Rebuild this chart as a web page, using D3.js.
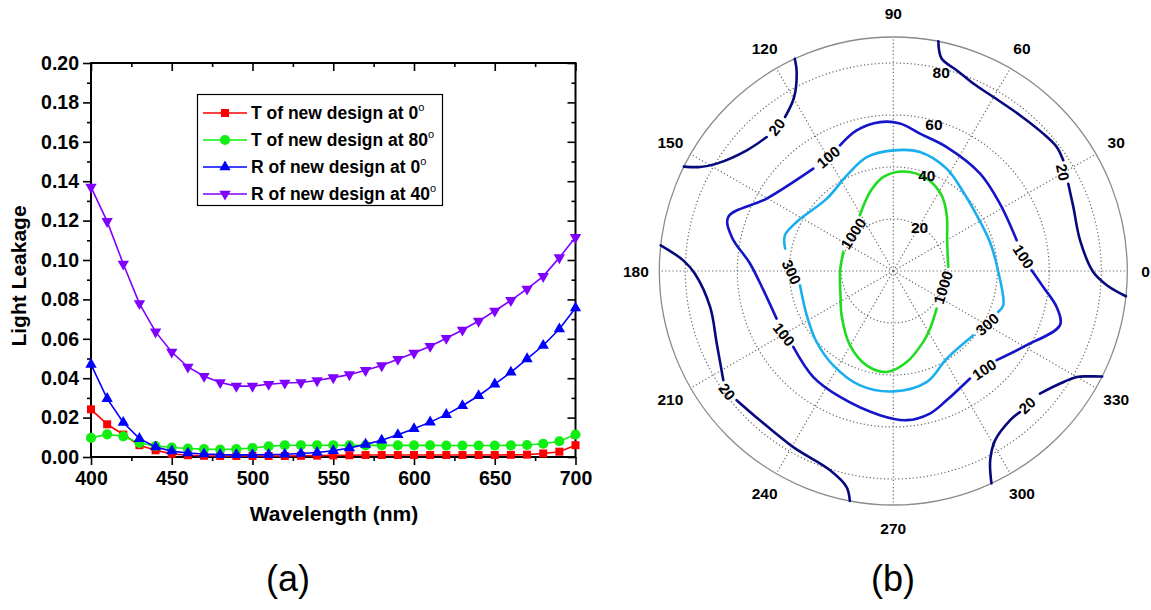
<!DOCTYPE html>
<html>
<head>
<meta charset="utf-8">
<script src="https://cdn.jsdelivr.net/npm/d3@7"></script>
<style>
  html, body { margin: 0; padding: 0; background: #fff; }
  svg { display: block; font-family: "Liberation Sans", Arial, Helvetica, sans-serif; }
</style>
</head>
<body>
<svg id="fig" width="1151" height="610"></svg>
<script>
// ---------- (a) light leakage spectra ----------
const wavelengths = [400, 410, 420, 430, 440, 450, 460, 470, 480, 490, 500,
  510, 520, 530, 540, 550, 560, 570, 580, 590, 600,
  610, 620, 630, 640, 650, 660, 670, 680, 690, 700];

const tNew0 = [0.0242, 0.0166, 0.0114, 0.0060, 0.0034, 0.0016, 0.0009, 0.0006, 0.0005, 0.0005, 0.0005,
  0.0005, 0.0005, 0.0006, 0.0007, 0.0008, 0.0009, 0.0010, 0.0010, 0.0010, 0.0010,
  0.0010, 0.0010, 0.0010, 0.0010, 0.0010, 0.0011, 0.0012, 0.0018, 0.0027, 0.0060];

const tNew80 = [0.0097, 0.0115, 0.0105, 0.0071, 0.0056, 0.0048, 0.0043, 0.0040, 0.0038, 0.0040, 0.0046,
  0.0054, 0.0060, 0.0060, 0.0060, 0.0060, 0.0059, 0.0059, 0.0059, 0.0059, 0.0059,
  0.0059, 0.0058, 0.0058, 0.0058, 0.0058, 0.0059, 0.0061, 0.0067, 0.0080, 0.0114];

const rNew0 = [0.0470, 0.0296, 0.0175, 0.0093, 0.0051, 0.0030, 0.0020, 0.0015, 0.0012, 0.0011, 0.0011,
  0.0012, 0.0014, 0.0018, 0.0023, 0.0032, 0.0046, 0.0064, 0.0085, 0.0113, 0.0143,
  0.0177, 0.0215, 0.0260, 0.0311, 0.0370, 0.0430, 0.0498, 0.0566, 0.0650, 0.0756];

const rNew40 = [0.1370, 0.1196, 0.0980, 0.0779, 0.0635, 0.0533, 0.0457, 0.0410, 0.0378, 0.0360, 0.0360,
  0.0369, 0.0376, 0.0378, 0.0388, 0.0403, 0.0418, 0.0440, 0.0464, 0.0496, 0.0528,
  0.0562, 0.0603, 0.0645, 0.0690, 0.0741, 0.0795, 0.0853, 0.0917, 0.1012, 0.1115];

const seriesNames = ["T of new design at 0", "T of new design at 80",
                     "R of new design at 0", "R of new design at 40"];

const xMajorTicks = [400, 450, 500, 550, 600, 650, 700];
const xMinorTicks = [425, 475, 525, 575, 625, 675];
const yMajorTicks = [0, 0.02, 0.04, 0.06, 0.08, 0.10, 0.12, 0.14, 0.16, 0.18, 0.20];
const yMinorTicks = [0.01, 0.03, 0.05, 0.07, 0.09, 0.11, 0.13, 0.15, 0.17, 0.19];

// ---------- (b) polar contour map (angle in degrees, radius in degrees) ----------
const angleTicks = [0, 30, 60, 90, 120, 150, 180, 210, 240, 270, 300, 330];
const radiusTicks = [20, 40, 60, 80];
const radiusMax = 90;

// null marks a break where an inline label sits
const contour1000 = [[4.2, 21.2], [19.3, 22.1], [30, 23.9], [46.2, 29.7], [57.4, 34.5], [70.1, 37.8],
  [84, 38.5], [96, 36.4], [106.4, 31.7], [121, 25], null,
  [159, 20.6], [181, 20.5], [204.4, 22.3], [220.6, 26.2], [239.8, 33.1], [254.2, 37.7], [266.3, 38.9],
  [278.4, 35.4], [292.9, 29.6], [302.5, 26.3], [319, 22.1]];

const contour300 = [[188.7, 36.3], [207.1, 37.4], [222.8, 40.2], [237.5, 43], [253.8, 45.8], [270, 46.3],
  [286.7, 44.6], [301.4, 39.5], [321.2, 39.5], null,
  [338.7, 43.3], [342.7, 44.3], [359.5, 40.4], [16.7, 38.8], [33.7, 38.6], [48.5, 40.6], [62.5, 44.4],
  [77.4, 46.9], [90, 46.4], [103.1, 45], [115.9, 40.9], [132.6, 37.8], [153.1, 41.7], [161.8, 43.9],
  [168.3, 42.5]];

const contour100 = [[14, 48.9], [32.3, 48.5], [48.3, 50.2], [66.7, 51.9], [79, 53.8], [87.4, 56.8],
  [95.1, 57.5], [104.6, 55.9], [113, 52.5], null,
  [128, 50], [150.2, 56.1], [161.9, 66.8], [168.1, 63.5], [177, 55.2], [188.4, 50.5], [202.2, 48.5], null,
  [217.2, 48.3], [233, 51.1], [247.1, 52.6], [264.7, 55.7], [275.1, 57.6], [284.4, 56.6], [292.4, 53.8],
  [305.5, 50.8], null,
  [319.2, 52.5], [330.9, 58.7], [342, 67.4], [347.6, 64.3], [353.9, 58], [0.3, 53.2]];

const contour20 = [
  [[114.9, 90], [115.9, 85.1], [119.7, 77], [125.1, 72.4], null,
   [133.4, 70.9], [140.5, 73], [148.7, 79.5], [151.7, 84.4], [153.5, 90]],
  [[78.9, 90], [77.2, 83.8], [72.5, 81], [66.9, 78.4], [60.1, 77.2], [50.9, 77.2], [42.5, 78.2],
   [37.2, 78.9], [33.1, 78], null,
   [26.5, 75.2], [19.6, 73.5], [9.3, 72.8], [359.7, 76.9], [356.2, 82.3], [353.8, 90]],
  [[173.7, 90], [177.1, 80.9], [180.8, 76.3], [191.1, 71.8], [202.3, 73.4], [212.7, 77.7], null,
   [219.5, 78.1], [228.2, 77], [240.4, 77.9], [252.4, 80.4], [257.8, 85], [259.3, 90]],
  [[294.8, 90], [297.1, 81.8], [301, 76], [308, 72.9], [311.9, 72.9], null,
   [320.1, 73.5], [326, 77.4], [330, 81.5], [331.8, 85.8], [333.2, 90]]
];

// inline contour labels: level, angle, radius
const contourLabels = [
  [1000, 136.9, 21.1], [1000, 341.8, 20.1],
  [300, 180.6, 39.1], [300, 330.4, 41.5],
  [100, 119.7, 50.5], [100, 6.4, 50.4], [100, 312.7, 51.5], [100, 210.1, 48.6],
  [20, 129, 71.3], [20, 30.2, 75.5], [20, 216, 79], [20, 314.9, 72.9]
];
const contourLabelRotation = [-57, -73, 65, -42, -40, 57, -34, 52, -52, 78, 52, -43];

// ================= drawing =================
const svg = d3.select("#fig");
const FONT = '"Liberation Sans", Arial, Helvetica, sans-serif';
const SVG_W = 1151;

// ----- panel (a) -----
const A = { left: 91, right: 575.5, top: 63, bottom: 457 };
const x = d3.scaleLinear().domain([400, 700]).range([A.left, A.right]);
const y = d3.scaleLinear().domain([0, 0.2]).range([A.bottom, A.top]);

function styleAxis(g, withText) {
  g.attr("font-family", FONT);
  g.select(".domain").remove();
  g.selectAll(".tick line").attr("stroke", "#000").attr("stroke-width", 1.6);
  if (withText) {
    g.selectAll(".tick text").attr("font-size", 19.5).attr("font-weight", "bold").attr("fill", "#000");
  } else {
    g.selectAll(".tick text").remove();
  }
}

const axA = svg.append("g");
// bottom
axA.append("g").attr("transform", `translate(0,${A.bottom})`)
  .call(d3.axisBottom(x).tickValues(xMajorTicks).tickSize(8).tickPadding(6).tickFormat(d3.format("d")))
  .call(g => styleAxis(g, true));
axA.append("g").attr("transform", `translate(0,${A.bottom})`)
  .call(d3.axisBottom(x).tickValues(xMinorTicks).tickSize(4))
  .call(g => styleAxis(g, false));
// top (inward)
axA.append("g").attr("transform", `translate(0,${A.top})`)
  .call(d3.axisTop(x).tickValues(xMajorTicks).tickSize(-8))
  .call(g => styleAxis(g, false));
axA.append("g").attr("transform", `translate(0,${A.top})`)
  .call(d3.axisTop(x).tickValues(xMinorTicks).tickSize(-4))
  .call(g => styleAxis(g, false));
// left
axA.append("g").attr("transform", `translate(${A.left},0)`)
  .call(d3.axisLeft(y).tickValues(yMajorTicks).tickSize(8).tickPadding(4).tickFormat(d3.format(".2f")))
  .call(g => styleAxis(g, true));
axA.append("g").attr("transform", `translate(${A.left},0)`)
  .call(d3.axisLeft(y).tickValues(yMinorTicks).tickSize(4))
  .call(g => styleAxis(g, false));
// right (inward)
axA.append("g").attr("transform", `translate(${A.right},0)`)
  .call(d3.axisRight(y).tickValues(yMajorTicks).tickSize(-8))
  .call(g => styleAxis(g, false));
axA.append("g").attr("transform", `translate(${A.right},0)`)
  .call(d3.axisRight(y).tickValues(yMinorTicks).tickSize(-4))
  .call(g => styleAxis(g, false));

// frame
svg.append("rect")
  .attr("x", A.left).attr("y", A.top)
  .attr("width", A.right - A.left).attr("height", A.bottom - A.top)
  .attr("fill", "none").attr("stroke", "#000").attr("stroke-width", 2);

// series
const series = [
  { values: tNew0, color: "#ff0000", symbol: d3.symbolSquare, size: 64, rotate: 0 },
  { values: tNew80, color: "#11ee11", symbol: d3.symbolCircle, size: 80, rotate: 0 },
  { values: rNew0, color: "#0000ff", symbol: d3.symbolTriangle, size: 56, rotate: 0 },
  { values: rNew40, color: "#8000ff", symbol: d3.symbolTriangle, size: 56, rotate: 180 }
];

const line = d3.line().x((d, i) => x(wavelengths[i])).y(d => y(d));
const plot = svg.append("g");
series.forEach(s => {
  plot.append("path").datum(s.values)
    .attr("d", line).attr("fill", "none")
    .attr("stroke", s.color).attr("stroke-width", 1.6);
  const sym = d3.symbol().type(s.symbol).size(s.size);
  plot.selectAll(null).data(s.values).enter().append("path")
    .attr("d", sym)
    .attr("transform", (d, i) => `translate(${x(wavelengths[i])},${y(d)}) rotate(${s.rotate})`)
    .attr("fill", s.color);
});

// legend
const leg = svg.append("g").attr("font-family", FONT);
leg.append("rect").attr("x", 197.5).attr("y", 94.5).attr("width", 245).attr("height", 111)
  .attr("fill", "#fff").attr("stroke", "#000").attr("stroke-width", 1.2);
series.forEach((s, i) => {
  const ly = 113 + i * 27;
  leg.append("line").attr("x1", 203).attr("x2", 247).attr("y1", ly).attr("y2", ly)
    .attr("stroke", s.color).attr("stroke-width", 1.6);
  leg.append("path").attr("d", d3.symbol().type(s.symbol).size(s.size))
    .attr("transform", `translate(225,${ly}) rotate(${s.rotate})`).attr("fill", s.color);
  const t = leg.append("text").attr("x", 251).attr("y", ly + 6)
    .attr("font-size", 17.5).attr("font-weight", "bold").attr("fill", "#000");
  t.append("tspan").text(seriesNames[i]);
  t.append("tspan").attr("dy", -8).attr("font-size", 11).attr("font-weight", "normal").text("o");
});

// axis titles
svg.append("text").attr("x", 334).attr("y", 521).attr("text-anchor", "middle")
  .attr("font-family", FONT).attr("font-size", 21).attr("font-weight", "bold")
  .text("Wavelength (nm)");
svg.append("text").attr("transform", "translate(26,276) rotate(-90)").attr("text-anchor", "middle")
  .attr("font-family", FONT).attr("font-size", 21).attr("font-weight", "bold")
  .text("Light Leakage");

// panel captions
svg.append("text").attr("x", 288).attr("y", 591).attr("text-anchor", "middle")
  .attr("font-family", FONT).attr("font-size", 36).text("(a)");
svg.append("text").attr("x", 893).attr("y", 591).attr("text-anchor", "middle")
  .attr("font-family", FONT).attr("font-size", 36).text("(b)");

// ----- panel (b) -----
const P = { cx: 893.3, cy: 271, R: 234 };
const rS = d3.scaleLinear().domain([0, radiusMax]).range([0, P.R]);
const rad = deg => deg * Math.PI / 180;
const polarXY = (th, r) => [rS(r) * Math.cos(rad(th)), -rS(r) * Math.sin(rad(th))];

const pg = svg.append("g").attr("transform", `translate(${P.cx},${P.cy})`).attr("font-family", FONT);

const gridStyle = sel => sel.attr("fill", "none").attr("stroke", "#666")
  .attr("stroke-width", 1.2).attr("stroke-dasharray", "1.2,2.4");

// spokes
pg.selectAll("line.spoke").data(angleTicks).enter().append("line")
  .attr("x1", 0).attr("y1", 0)
  .attr("x2", d => polarXY(d, radiusMax)[0]).attr("y2", d => polarXY(d, radiusMax)[1])
  .call(gridStyle);
// rings
pg.selectAll("circle.ring").data(radiusTicks).enter().append("circle")
  .attr("r", d => rS(d)).call(gridStyle);
pg.append("circle").attr("r", rS(radiusMax))
  .attr("fill", "none").attr("stroke", "#8a8a8a").attr("stroke-width", 1.3);

// contours
const radial = d3.lineRadial()
  .defined(d => d != null)
  .angle(d => rad(90 - d[0]))
  .radius(d => rS(d[1]))
  .curve(d3.curveCatmullRom.alpha(0.5));

const contourStyle = [
  { data: [contour1000], color: "#1fdc1f" },
  { data: [contour300], color: "#1aaeee" },
  { data: [contour100], color: "#1414c8" },
  { data: contour20, color: "#08087e" }
];
contourStyle.forEach(c => {
  c.data.forEach(seg => {
    pg.append("path").attr("d", radial(seg)).attr("fill", "none")
      .attr("stroke", c.color).attr("stroke-width", 2.6)
      .attr("stroke-linejoin", "round").attr("stroke-linecap", "round");
  });
});

// contour labels
pg.selectAll("text.clabel").data(contourLabels).enter().append("text")
  .attr("transform", (d, i) => {
    const p = polarXY(d[1], d[2]);
    return `translate(${p[0]},${p[1]}) rotate(${contourLabelRotation[i]})`;
  })
  .attr("text-anchor", "middle").attr("dominant-baseline", "central")
  .attr("font-size", 15).attr("font-weight", "bold").attr("fill", "#000")
  .text(d => d[0]);

// radius labels
pg.selectAll("text.rlabel").data(radiusTicks).enter().append("text")
  .attr("x", d => polarXY(82, d + 1)[0] + 10)
  .attr("y", d => polarXY(82, d + 1)[1] + 10.5)
  .attr("dominant-baseline", "central")
  .attr("font-size", 15.5).attr("font-weight", "bold").attr("fill", "#000")
  .text(d => d);

// angle labels, kept inside the drawing area
pg.selectAll("text.alabel").data(angleTicks).enter().append("text")
  .attr("x", d => polarXY(d, radiusMax * 1.1)[0])
  .attr("y", d => polarXY(d, radiusMax * 1.1)[1])
  .attr("text-anchor", "middle").attr("dominant-baseline", "central")
  .attr("font-size", 15.5).attr("font-weight", "bold").attr("fill", "#000")
  .text(d => d)
  .each(function () {
    const b = this.getBBox();
    const overflow = P.cx + b.x + b.width - (SVG_W - 1);
    if (overflow > 0) d3.select(this).attr("x", +d3.select(this).attr("x") - overflow);
  });
</script>
</body>
</html>
